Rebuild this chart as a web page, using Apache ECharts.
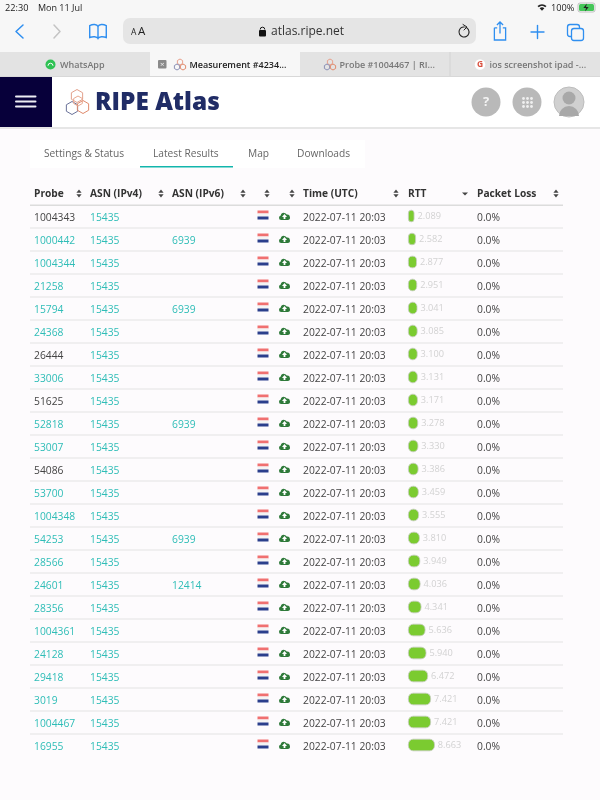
<!DOCTYPE html>
<html><head><meta charset="utf-8">
<style>html,body{margin:0;padding:0;background:#fdfbfd}#c{width:600px;height:800px}</style>
<script src="https://cdn.jsdelivr.net/npm/echarts@6/dist/echarts.min.js"></script>
</head><body><div id="c"></div>
<script>
const probes=['1004343','1000442','1004344','21258','15794','24368','26444','33006','51625','52818','53007','54086','53700','1004348','54253','28566','24601','28356','1004361','24128','29418','3019','1004467','16955'];
const plainProbes=['1004343','26444','51625','54086'];
const asn4=['15435','15435','15435','15435','15435','15435','15435','15435','15435','15435','15435','15435','15435','15435','15435','15435','15435','15435','15435','15435','15435','15435','15435','15435'];
const asn6=['','6939','','','6939','','','','','6939','','','','','6939','','12414','','','','','','',''];
const rtt=[2.089,2.582,2.877,2.951,3.041,3.085,3.100,3.131,3.171,3.278,3.330,3.386,3.459,3.555,3.810,3.949,4.036,4.341,5.636,5.940,6.472,7.421,7.421,8.663];
const timeLabel='2022-07-11 20:03';
const lossLabel='0.0%';
const headers=[['Probe',34],['ASN (IPv4)',90],['ASN (IPv6)',172],['Time (UTC)',303],['RTT',408],['Packet Loss',477]];
const sortIconX=[79,161,243,267,292,396,556];
const tabs=[['Settings & Status',44],['Latest Results',153],['Map',248],['Downloads',297]];

const F='"Open Sans"';
const TEAL='#2fbdb7', DARK='#444', BLUE='#2f8ff0';
const g=[];
const chromePaths=[];
const rect=(x,y,w,h,fill,r,extra)=>g.push(Object.assign({type:'rect',shape:{x,y,width:w,height:h,r:r||0},style:{fill},silent:true},extra||{}));
const text=(x,y,t,size,fill,o)=>g.push({type:'text',x,y,silent:true,style:Object.assign({text:t,fontSize:size,fontFamily:F,fill,verticalAlign:'middle'},o||{})});
const line=(pts,stroke,w)=>g.push({type:'polyline',shape:{points:pts},silent:true,style:{stroke,lineWidth:w||1.5,fill:null,lineCap:'round',lineJoin:'round'}});
const path=(d,x,y,w,h,style)=>chromePaths.push({type:'path',shape:{pathData:d,layout:'center',x:x-w/2,y:y-h/2,width:w,height:h},style});
const hex=(cx,cy,r,stroke)=>{const p=[];for(let i=0;i<6;i++){const a=Math.PI/6+i*Math.PI/3;p.push([cx+r*Math.cos(a),cy+r*Math.sin(a)]);}g.push({type:'polygon',shape:{points:p},silent:true,style:{fill:null,stroke,lineWidth:1}});};

// browser chrome
rect(0,0,600,52,'#f7f7f7');
text(5,8,'22:30',9.2,'#222');
text(38,8,'Mon 11 Jul',9,'#222');
text(551,8,'100%',9.2,'#222');
path('M0 3a9 9 0 0 1 12 0l-1.6 1.8a6.5 6.5 0 0 0-8.8 0zM2.8 6a5 5 0 0 1 6.4 0L6 9.5z',542,7.5,9,7,{fill:'#222'});
rect(578,3,17,9,'#f7f7f7',2,{style:{fill:'#f7f7f7',stroke:'#aaa',lineWidth:.7}});
rect(579,4,15,7,'#45c659',1.5);
path('M4 0L0 5h3L2 9l4-5H3z',586,7.5,6,8,{fill:'#222'});
line([[23,25],[16,31.5],[23,38]],BLUE,1.5);
line([[54,25],[60,31.5],[54,38]],'#c4c4c4',1.5);
path('M1 3.5C4 2 8 2 9 4.5C10 2 14 2 17 3.5V15C14 14 10 14 9 16C8 14 4 14 1 15Z M9 4.5V16',98,31.5,18,14,{fill:'none',stroke:BLUE,lineWidth:1.4});
rect(123,18,353,26,'#e5e5e5',7);
text(131,32.5,'A',8.5,'#222');
text(138,32,'A',11.5,'#222');
rect(259,30,7,6.5,'#111',1);
g.push({type:'arc',shape:{cx:262.5,cy:29.5,r:2.3,startAngle:Math.PI,endAngle:0},silent:true,style:{fill:null,stroke:'#111',lineWidth:1}});
text(271,32,'atlas.ripe.net',12,'#333');
g.push({type:'arc',shape:{cx:464,cy:32,r:5,startAngle:-Math.PI*0.4,endAngle:Math.PI*1.55},silent:true,style:{fill:null,stroke:'#222',lineWidth:1.1}});
line([[463,24.5],[467,27],[464,30]],'#222',1);
// share, plus, tabs icons
path('M1 7H4M10 7H13V20H1V7 M7 13V1 M3.7 4L7 0.8L10.3 4',500,31,13,18,{fill:'none',stroke:BLUE,lineWidth:1.3});
line([[531,32],[544,32]],BLUE,1.4);
line([[537.5,25.5],[537.5,38.5]],BLUE,1.4);
rect(567.5,24.5,12,12,'none',2.5,{style:{fill:'none',stroke:BLUE,lineWidth:1.3}});
rect(571.5,28.5,12,12,'#f7f7f7',2.5,{style:{fill:'#f7f7f7',stroke:BLUE,lineWidth:1.3}});
// browser tabs
rect(0,52,600,24,'#e3e3e3');
rect(150,52,150,24,'#f7f7f7');
rect(449.5,52,1,24,'#d4d4d4');
rect(0,76,600,1,'#d8d8d8');
g.push({type:'circle',shape:{cx:50.5,cy:64.5,r:5},silent:true,style:{fill:'#2fc254'}});
path('M1 5a3 3 0 0 1 6 0',50.5,64.5,5,3,{fill:'none',stroke:'#fff',lineWidth:1});
text(60,65,'WhatsApp',9,'#777',{fontWeight:600});
rect(158,60,8.5,8.5,'#8a8a8a',1);
text(162.2,64.3,'×',8,'#eee',{align:'center'});
const tinyLogo=(x,y)=>{hex(x,y-3,3,'#e8a08c');hex(x-3,y+2,3,'#8a8fb5');hex(x+3,y+2,3,'#e08a6c');};
tinyLogo(180,65);
text(189.5,65,'Measurement #4234...',9,'#222',{fontWeight:600});
tinyLogo(330,65);
text(339.5,65,'Probe #1004467 | RI...',9,'#777',{fontWeight:600});
g.push({type:'circle',shape:{cx:480,cy:64.5,r:5.3},silent:true,style:{fill:'#fff'}});
text(480,64.8,'G',8.5,'#d9503f',{align:'center',fontWeight:700});
text(489.5,65,'ios screenshot ipad -...',9,'#777',{fontWeight:600});
// site header
rect(0,77,600,50,'#ffffff');
rect(0,77,52,50,'#07003a');
[96.5,101.5,106.5].forEach(y=>rect(15,y-1,21.5,2,'#eeeef4',1));
hex(77,96,6.5,'#e2a08c');
hex(72,108,6.5,'#6a7299');
hex(83,107,6.5,'#e08a6c');
hex(78,101,5,'#e8a890');
text(95,103,'RIPE Atlas',24.4,'#202c66',{fontWeight:800});
g.push({type:'circle',shape:{cx:486,cy:102,r:14.5},silent:true,style:{fill:'#b9b9b9'}});
text(486,102.5,'?',13,'#f4f4f4',{align:'center',fontWeight:700});
g.push({type:'circle',shape:{cx:527,cy:102,r:14.5},silent:true,style:{fill:'#b9b9b9'}});
[-4,0,4].forEach(dx=>[-4,0,4].forEach(dy=>g.push({type:'circle',shape:{cx:527.5+dx,cy:102.5+dy,r:1.4},silent:true,style:{fill:'#f0f0f0'}})));
g.push({type:'circle',shape:{cx:569,cy:102,r:15},silent:true,style:{fill:'#d0d0d0',stroke:'#bdbdbd',lineWidth:1}});
g.push({type:'circle',shape:{cx:569,cy:98,r:6.5},silent:true,style:{fill:'#a8a8a8'}});
g.push({type:'sector',shape:{cx:569,cy:116,r0:0,r:10,startAngle:Math.PI,endAngle:2*Math.PI},silent:true,style:{fill:'#a8a8a8'}});
rect(0,127,600,2,'#e6e6e6');
// tabs panel
rect(30,140,335,28,'#ffffff');
tabs.forEach(t=>text(t[1],154,t[0],10.2,'#666'));
rect(140,166,93,1.5,'#12b5ac');
// table header
headers.forEach(h=>text(h[1],194.5,h[0],10.2,'#333',{fontWeight:700}));
const sortIcon=x=>{
  g.push({type:'polygon',shape:{points:[[x,189.5],[x-2.6,192.7],[x+2.6,192.7]]},silent:true,style:{fill:'#444'}});
  g.push({type:'polygon',shape:{points:[[x,197.5],[x-2.6,194.3],[x+2.6,194.3]]},silent:true,style:{fill:'#444'}});
};
sortIconX.forEach(sortIcon);
g.push({type:'polygon',shape:{points:[[465,195.5],[462,192.5],[468,192.5]]},silent:true,style:{fill:'#444'}});
rect(30,204.5,533,1.6,'#dcdcdc');

const CLOUD='M5 13.5a3.6 3.6 0 0 1-.6-7.1 5 5 0 0 1 9.4-1.6 4.4 4.4 0 0 1 1.5 8.7z';
function renderRow(params,api){
  const i=api.value(1);
  const y=api.coord([0,i])[1];
  const ty=y+2.5;
  const t=(x,s,fill)=>({type:'text',x,y:ty,style:{text:s,fontSize:10.3,fontFamily:F,fill,verticalAlign:'middle'}});
  const kids=[
    t(34,probes[i],plainProbes.includes(probes[i])?DARK:TEAL),
    t(90,asn4[i],TEAL),
    t(303,timeLabel,DARK),
    t(477,lossLabel,DARK),
    {type:'rect',shape:{x:257.5,y:y-5.5,width:11,height:3},style:{fill:'#f07070'}},
    {type:'rect',shape:{x:257.5,y:y-2.5,width:11,height:3},style:{fill:'#f4f4f4'}},
    {type:'rect',shape:{x:257.5,y:y+0.5,width:11,height:3},style:{fill:'#2b3f8c'}},
    {type:'path',shape:{pathData:CLOUD,layout:'center',x:279,y:y-3.5,width:11,height:8},style:{fill:'#2f7a3a'}},
    {type:'polygon',shape:{points:[[284.5,y-2],[282,y+1],[283.6,y+1],[283.6,y+3],[285.4,y+3],[285.4,y+1],[287,y+1]]},style:{fill:'#ffffff'}}
  ];
  if(asn6[i]) kids.push(t(172,asn6[i],TEAL));
  if(i<probes.length-1) kids.push({type:'rect',shape:{x:30,y:y+11.5,width:533,height:1},style:{fill:'#e3e3e3'}});
  return {type:'group',children:kids};
}

const chart=echarts.init(document.getElementById('c'),null,{renderer:'canvas'});
chart.setOption({
  animation:false,
  backgroundColor:'#fdfbfd',
  grid:{left:408,top:204.5,width:31,height:552,containLabel:false},
  xAxis:{type:'value',min:0,max:10,show:false},
  yAxis:{type:'category',inverse:true,data:probes,show:false},
  graphic:g,
  series:[
    {type:'custom',renderItem:renderRow,data:probes.map((p,i)=>[0,i]),encode:{x:0,y:1},silent:true,z:1},
    {type:'custom',renderItem:()=>({type:'group',children:chromePaths}),data:[[0,0]],encode:{x:0,y:1},silent:true,z:2},
    {type:'bar',data:rtt,barWidth:12.5,z:3,silent:true,
     itemStyle:{color:'#7bcb30',borderColor:'#c9cdc4',borderWidth:0.8,borderRadius:5},
     label:{show:true,position:'right',distance:3,fontSize:9.2,fontFamily:F,color:'#d2d2d2',
            formatter:p=>p.value.toFixed(3)}}
  ]
});
</script></body></html>
